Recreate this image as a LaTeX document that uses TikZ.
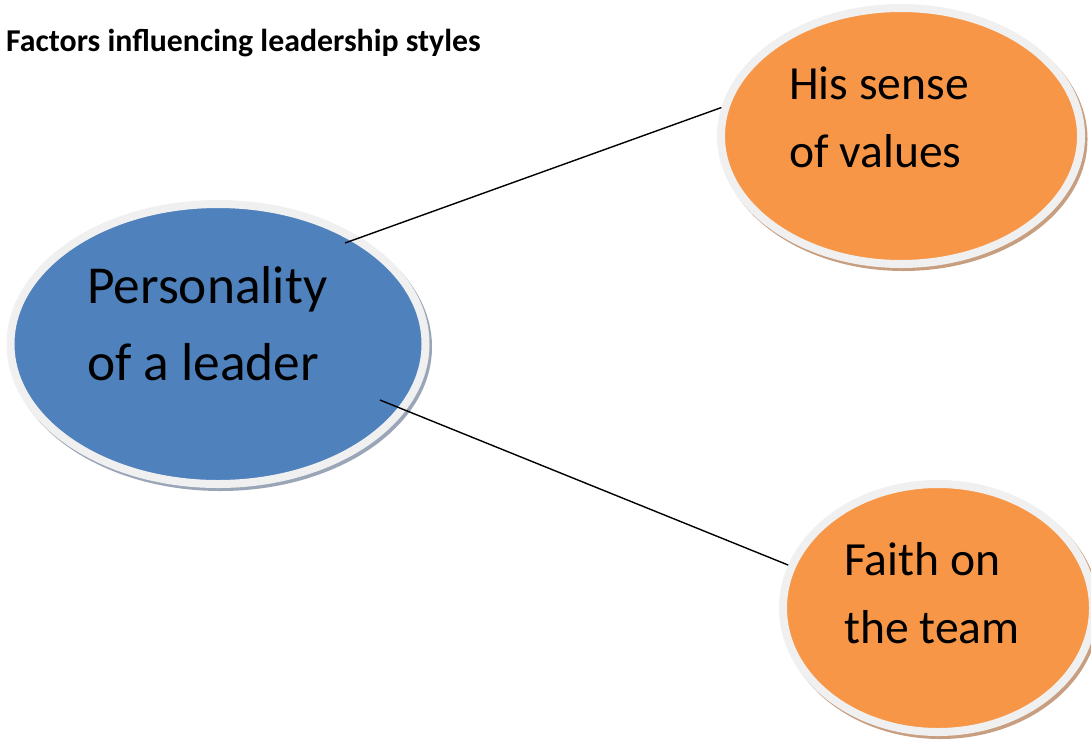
\documentclass[tikz,border=0pt]{standalone}
\usepackage{fontspec}
\setmainfont{Carlito}
\usetikzlibrary{shapes.geometric}
\definecolor{blueF}{HTML}{4F81BD}
\definecolor{orangeF}{HTML}{F79646}
\definecolor{rimF}{HTML}{F0F0F0}
\definecolor{blueShadow}{HTML}{9AA6B8}
\definecolor{orangeShadow}{HTML}{C89E80}
\tikzset{
  bubble/.style 2 args={ellipse, inner sep=0pt, fill=#1, draw=rimF, line width=8pt,
    preaction={draw=#2, fill=#2, line width=8pt, transform canvas={shift={(2.5pt,-3pt)}}}},
  bigtxt/.style={anchor=base west, inner sep=0pt, align=left, font=\fontsize{53.4}{77}\selectfont},
  smalltxt/.style={anchor=base west, inner sep=0pt, align=left, font=\fontsize{47.6}{68}\selectfont},
  conn/.style={draw=black, line width=1.4pt}
}
\begin{document}
\begin{tikzpicture}[x=1pt,y=-1pt]
\useasboundingbox (0,0) rectangle (1091,740);
\node[anchor=base west, inner sep=0pt, font=\bfseries\fontsize{31.8}{36}\selectfont] (title) at (6,51) {Factors influencing leadership styles};
\node[bubble={blueF}{blueShadow}, minimum width=415pt, minimum height=280pt] (pers) at (218,344) {};
\node[bubble={orangeF}{orangeShadow}, minimum width=360pt, minimum height=256pt] (val) at (901,136) {};
\node[bubble={orangeF}{orangeShadow}, minimum width=310pt, minimum height=248pt] (fai) at (938,608) {};
\node[bigtxt] (perst) at (87,380) {Personality\\of a leader};
\node[smalltxt] (valt) at (789,167) {His sense\\of values};
\node[smalltxt] (fait) at (844,643) {Faith on\\the team};
\coordinate (s1) at (345,243);
\coordinate (s2) at (380,400);
\draw[conn] (s1) -- (val.171);
\draw[conn] (s2) -- (fai.164);
\end{tikzpicture}
\end{document}
